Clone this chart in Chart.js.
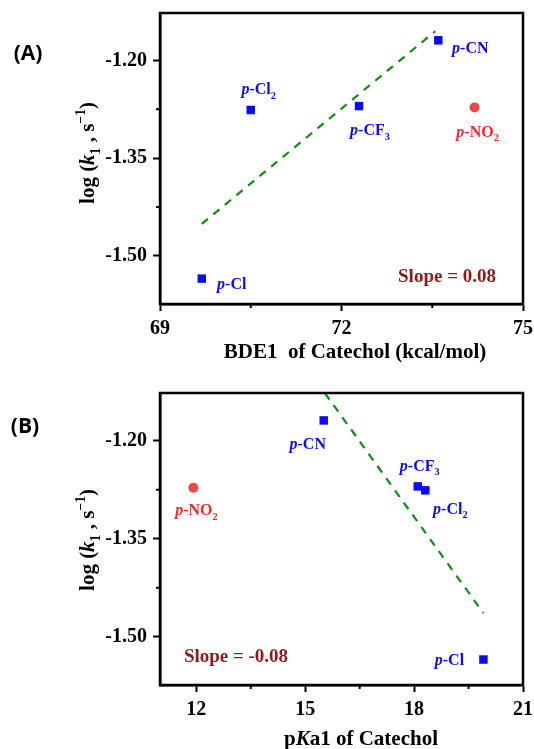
<!DOCTYPE html>
<html>
<head>
<meta charset="utf-8">
<script src="https://cdn.jsdelivr.net/npm/chart.js@4.4.1/dist/chart.umd.min.js"></script>
<style>
  html, body { margin: 0; padding: 0; background: #fff; }
  #wrap { position: relative; width: 534px; height: 749px; }
  canvas { position: absolute; left: 0; }
</style>
</head>
<body>
<div id="wrap">
  <canvas id="cA" width="534" height="370" style="top:0"></canvas>
  <canvas id="cB" width="534" height="379" style="top:370px"></canvas>
</div>
<script>
// data
const subst  = ['p-Cl', 'p-Cl2', 'p-CF3', 'p-CN'];
const logK   = [-1.535, -1.276, -1.270, -1.169];
const bde1   = [69.69, 70.50, 72.29, 73.60];
const pka1   = [19.91, 18.31, 18.10, 15.51];

const no2Label = 'p-NO2';
const no2LogK  = -1.272;
const no2Bde   = 74.20;
const no2Pka   = 11.92;

// dashed fits
const fitAx = [69.69, 73.55], fitAy = [-1.451, -1.155];
const fitBx = [15.54, 19.91], fitBy = [-1.127, -1.464];

// axes
const yRange  = [-1.574, -1.127];
const yTicks  = [-1.50, -1.35, -1.20];
const yMinor  = [-1.425, -1.275];
const xRangeA = [69, 75], xTicksA = [69, 72, 75], xMinorA = [70.5, 73.5];
const xRangeB = [11, 21], xTicksB = [12, 15, 18, 21], xMinorB = [13.5, 16.5, 19.5];

const SERIF = '"Liberation Serif", "Times New Roman", serif';
const BLUE = '#0c0cf0', RED = '#f02828', DOT = '#e84848', GREEN = '#138a13', SLOPE = '#8b1a1a';

const fnt = (size, it) => (it ? 'italic ' : '') + 'bold ' + size + 'px ' + SERIF;

// 'p-CF3' -> italic p, then digits as subscripts
function parseLabel(s){
  const runs = [{ t: 'p', it: true }];
  s.slice(1).split(/(\d+)/).forEach(part => {
    if (!part) return;
    runs.push(/^\d+$/.test(part) ? { t: part, sub: true } : { t: part });
  });
  return runs;
}

function drawRich(ctx, runs, cx, cy, size, color){
  const sz = r => (r.sub || r.sup) ? size * 0.65 : size;
  const w = runs.map(r => { ctx.font = fnt(sz(r), r.it); return ctx.measureText(r.t).width; });
  let x = cx - w.reduce((a, b) => a + b, 0) / 2;
  const base = cy + size * 0.33;
  ctx.fillStyle = color;
  ctx.textAlign = 'left';
  ctx.textBaseline = 'alphabetic';
  runs.forEach((r, i) => {
    ctx.font = fnt(sz(r), r.it);
    const dy = r.sub ? size * 0.3 : r.sup ? -size * 0.42 : 0;
    ctx.fillText(r.t, x, base + dy);
    x += w[i];
  });
}

const yTitle = [{ t: 'log (' }, { t: 'k', it: true }, { t: '1', sub: true }, { t: ' , s' }, { t: '\u22121', sup: true }, { t: ')' }];

function makePanel(id, o){
  const canvas = document.getElementById(id);
  const W = canvas.width, H = canvas.height;

  const decor = {
    id: 'decor',
    afterDraw(chart){
      const { ctx, chartArea: a, scales } = chart;
      ctx.save();
      // frame
      ctx.strokeStyle = '#000';
      ctx.lineWidth = 2.5;
      ctx.strokeRect(a.left, a.top, a.right - a.left, a.bottom - a.top);
      // minor ticks
      ctx.lineWidth = 2;
      ctx.beginPath();
      o.xMinor.forEach(v => { const px = scales.x.getPixelForValue(v); ctx.moveTo(px, a.bottom); ctx.lineTo(px, a.bottom + 4); });
      yMinor.forEach(v => { const py = scales.y.getPixelForValue(v); ctx.moveTo(a.left, py); ctx.lineTo(a.left - 4, py); });
      ctx.stroke();

      // point labels
      o.labelSets.forEach(set => {
        const meta = chart.getDatasetMeta(set.ds);
        set.text.forEach((t, i) => {
          const el = meta.data[i];
          drawRich(ctx, parseLabel(t), el.x + set.off[i][0], el.y + set.off[i][1], 16, set.color);
        });
      });

      // slope note
      drawRich(ctx, [{ t: o.slope }], o.slopePos[0], o.slopePos[1], 19, SLOPE);

      // axis titles
      drawRich(ctx, o.xTitle, o.xTitlePos[0], o.xTitlePos[1], 21, '#000');
      ctx.save();
      ctx.translate(o.yTitlePos[0], o.yTitlePos[1]);
      ctx.rotate(-Math.PI / 2);
      drawRich(ctx, yTitle, 0, 0, 21, '#000');
      ctx.restore();

      // panel letter
      ctx.fillStyle = '#000';
      ctx.font = 'bold 21px "Open Sans", "Liberation Sans", sans-serif';
      ctx.textAlign = 'center';
      ctx.textBaseline = 'middle';
      ctx.fillText(o.letter, o.letterPos[0], o.letterPos[1]);
      ctx.restore();
    }
  };

  const axisCommon = {
    type: 'linear',
    grid: { display: true, drawOnChartArea: false, drawTicks: true, tickLength: 7, tickWidth: 2, tickColor: '#000', color: '#000' },
    border: { display: true, color: '#000', width: 2.5 },
  };

  return new Chart(canvas, {
    type: 'scatter',
    data: {
      datasets: [
        { data: o.xs.map((x, i) => ({ x, y: logK[i] })), pointStyle: 'rect', pointRadius: 6,
          pointBackgroundColor: BLUE, pointBorderWidth: 0, showLine: false },
        { data: [{ x: o.no2x, y: no2LogK }], pointStyle: 'circle', pointRadius: 5,
          pointBackgroundColor: DOT, pointBorderWidth: 0, showLine: false },
        { data: o.fitX.map((x, i) => ({ x, y: o.fitY[i] })), showLine: true, pointRadius: 0,
          borderColor: GREEN, borderWidth: 2.2, borderDash: [8, 7] }
      ]
    },
    options: {
      responsive: false,
      animation: false,
      devicePixelRatio: 1,
      layout: { padding: { top: o.plotTop, right: W - o.plotRight, left: 0, bottom: 0 } },
      plugins: { legend: { display: false }, tooltip: { enabled: false } },
      scales: {
        x: {
          ...axisCommon,
          min: o.xRange[0], max: o.xRange[1],
          afterBuildTicks: s => { s.ticks = o.xTicks.map(v => ({ value: v })); },
          afterFit: s => { s.height = H - o.plotBottom; s.paddingLeft = 0; s.paddingRight = 0; },
          ticks: { color: '#000', padding: 6, maxRotation: 0, autoSkip: false,
                   font: { family: SERIF, size: 20, weight: 'bold' }, callback: v => String(v) }
        },
        y: {
          ...axisCommon,
          min: yRange[0], max: yRange[1],
          afterBuildTicks: s => { s.ticks = yTicks.map(v => ({ value: v })); },
          afterFit: s => { s.width = o.plotLeft; s.paddingTop = 0; s.paddingBottom = 0; },
          ticks: { color: '#000', padding: 6, autoSkip: false,
                   font: { family: SERIF, size: 20, weight: 'bold' }, callback: v => v.toFixed(2) }
        }
      }
    },
    plugins: [decor]
  });
}

makePanel('cA', {
  xs: bde1, no2x: no2Bde, fitX: fitAx, fitY: fitAy,
  xRange: xRangeA, xTicks: xTicksA, xMinor: xMinorA,
  plotLeft: 160, plotRight: 523, plotTop: 13, plotBottom: 304,
  labelSets: [
    { ds: 0, text: subst, color: BLUE, off: [[30, 5], [8, -21], [11, 24], [32, 7]] },
    { ds: 1, text: [no2Label], color: RED, off: [[3, 24]] }
  ],
  slope: 'Slope = 0.08', slopePos: [447, 276],
  xTitle: [{ t: 'BDE1  of Catechol (kcal/mol)' }], xTitlePos: [355, 351],
  yTitlePos: [87, 153],
  letter: '(A)', letterPos: [28, 54]
});

makePanel('cB', {
  xs: pka1, no2x: no2Pka, fitX: fitBx, fitY: fitBy,
  xRange: xRangeB, xTicks: xTicksB, xMinor: xMinorB,
  plotLeft: 160, plotRight: 523, plotTop: 23, plotBottom: 315,
  labelSets: [
    { ds: 0, text: subst, color: BLUE, off: [[-34, 0], [25, 18], [2, -21], [-16, 23]] },
    { ds: 1, text: [no2Label], color: RED, off: [[3, 22]] }
  ],
  slope: 'Slope = -0.08', slopePos: [236, 286],
  xTitle: [{ t: 'p' }, { t: 'K', it: true }, { t: 'a1 of Catechol' }], xTitlePos: [361, 368],
  yTitlePos: [87, 170],
  letter: '(B)', letterPos: [25, 57]
});
</script>
</body>
</html>
